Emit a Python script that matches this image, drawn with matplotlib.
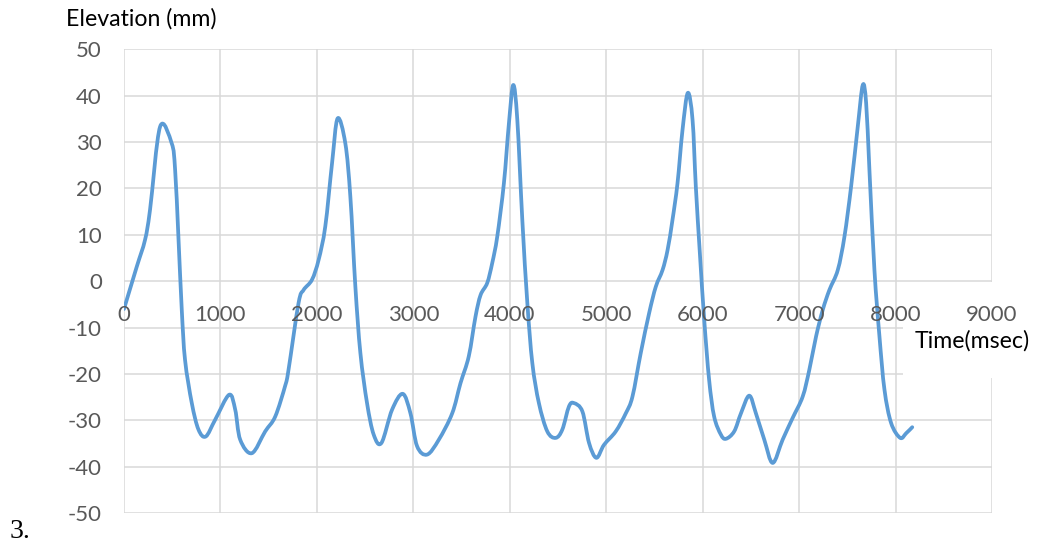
import matplotlib
matplotlib.use("Agg")
import matplotlib.pyplot as plt
import numpy as np
from matplotlib.patches import Rectangle, PathPatch
from matplotlib.path import Path

# time (msec) and elevation (mm)
time_ms = [0, 132, 218, 270, 374, 495, 530, 564, 599, 633, 703, 772, 848, 945,
           1090, 1153, 1205, 1326, 1464, 1568, 1672, 1706, 1810, 1862, 1949, 2018,
           2087, 2157, 2215, 2295, 2347, 2399, 2451, 2520, 2589, 2669, 2780, 2890,
           2970, 3039, 3143, 3264, 3403, 3489, 3575, 3645, 3697, 3766, 3818, 3870,
           3939, 3991, 4036, 4078, 4130, 4182, 4234, 4302, 4389, 4476, 4545, 4614,
           4666, 4753, 4822, 4898, 4977, 5099, 5203, 5272, 5358, 5445, 5514, 5584,
           5636, 5687, 5739, 5791, 5846, 5895, 5929, 5971, 6016, 6067, 6119, 6189,
           6241, 6327, 6397, 6483, 6552, 6639, 6726, 6829, 6933, 7037, 7106, 7176,
           7245, 7314, 7401, 7470, 7539, 7608, 7660, 7695, 7729, 7781, 7833, 7885,
           7954, 8048, 8110, 8173]
elevation_mm = [-6, 3.1, 8.9, 15.4, 33.3, 29.7, 24, 9.6, -6.2, -17, -26.3, -32, -33.5, -29.9,
                -24.5, -27.7, -34.2, -37.1, -32.4, -29.2, -22.5, -19.1, -4.7, -1.9, 0.3, 4.6,
                11.8, 25.4, 35.1, 29.7, 18.2, -1.2, -15.5, -26.3, -33.1, -34.9, -27.7, -24.3,
                -28.5, -35.6, -37.4, -34.2, -28.5, -22, -16.2, -7.6, -3, -0.4, 3.9, 9.6,
                21.1, 34, 42.3, 34.8, 13.2, -4.7, -17.7, -26.3, -32.4, -33.8, -32, -27,
                -26.3, -28.1, -34.9, -38.1, -35.3, -32.4, -28.5, -24.9, -15.5, -6.9, -1.2, 2.4,
                6.7, 13.2, 21.1, 32.6, 40.6, 34.8, 20.4, 6, -8.3, -21.3, -29.2, -33.1,
                -34, -32.4, -28.5, -24.7, -28.5, -34.2, -39.2, -34.2, -29.5, -24.9, -19.1, -11.9,
                -6.2, -1.9, 2.4, 9.6, 20.4, 33.3, 42.3, 38.4, 24, 2.4, -11.9, -23.4,
                -30.6, -33.8, -32.8, -31.5]

x_ticks = list(range(0, 9001, 1000))
y_ticks = list(range(-50, 51, 10))

plt.rcParams['font.family'] = ['Lato', 'DejaVu Sans']
plt.rcParams['axes.unicode_minus'] = False


def smooth_path(x, y):
    # Excel-style smoothed line: cubic bezier segments through every point
    p = np.column_stack([x, y]).astype(float)
    ext = np.vstack([p[0], p, p[-1]])
    verts = [p[0]]
    codes = [Path.MOVETO]
    for i in range(len(p) - 1):
        p0, p1, p2, p3 = ext[i], ext[i + 1], ext[i + 2], ext[i + 3]
        verts += [p1 + (p2 - p0) / 6, p2 - (p3 - p1) / 6, p2]
        codes += [Path.CURVE4] * 3
    return Path(verts, codes)


fig = plt.figure(figsize=(10.48, 5.43), dpi=100)
ax = fig.add_axes([124 / 1048, 1 - 513 / 543, 868 / 1048, (513 - 49.3) / 543])

grid_color = "#d9d9d9"
for v in y_ticks:
    ax.axhline(v, color=grid_color, lw=1.1, zorder=0.6)
for v in x_ticks:
    ax.axvline(v, color=grid_color, lw=1.1, zorder=0.6)

line = PathPatch(smooth_path(time_ms, elevation_mm), facecolor="none",
                 edgecolor="#5b9bd5", lw=2.7, zorder=2, capstyle="round", joinstyle="round")
ax.add_patch(line)

ax.set_xlim(0, 9000)
ax.set_ylim(-50, 50)
ax.set_xticks(x_ticks)
ax.set_yticks(y_ticks)
for s in ax.spines.values():
    s.set_color("none")
ax.spines['bottom'].set_position(('data', 0))
ax.tick_params(axis='x', length=0, pad=17, labelsize=16, labelcolor="#595959")
ax.tick_params(axis='y', length=0, pad=16, labelsize=16, labelcolor="#595959")
ax.xaxis.set_zorder(3)
ax.yaxis.set_zorder(3)

# white box behind the axis title, hides the gridlines there
box = Rectangle((903 / 1048, 1 - 378 / 543), 145 / 1048, 96 / 543,
                transform=fig.transFigure, facecolor="white", edgecolor="none",
                zorder=1, clip_on=False)
ax.add_artist(box)

fig.text(972 / 1048, 1 - 341 / 543, "Time(msec)", ha="center", va="center",
         fontsize=16.7, color="black")
fig.text(66 / 1048, 1 - 19 / 543, "Elevation (mm)", ha="left", va="center",
         fontsize=16.7, color="black")
fig.text(10 / 1048, 1 - 532 / 543, "3.", ha="left", va="center",
         fontsize=20, family="Liberation Serif", color="black")

fig.savefig("out.png", dpi=100)
